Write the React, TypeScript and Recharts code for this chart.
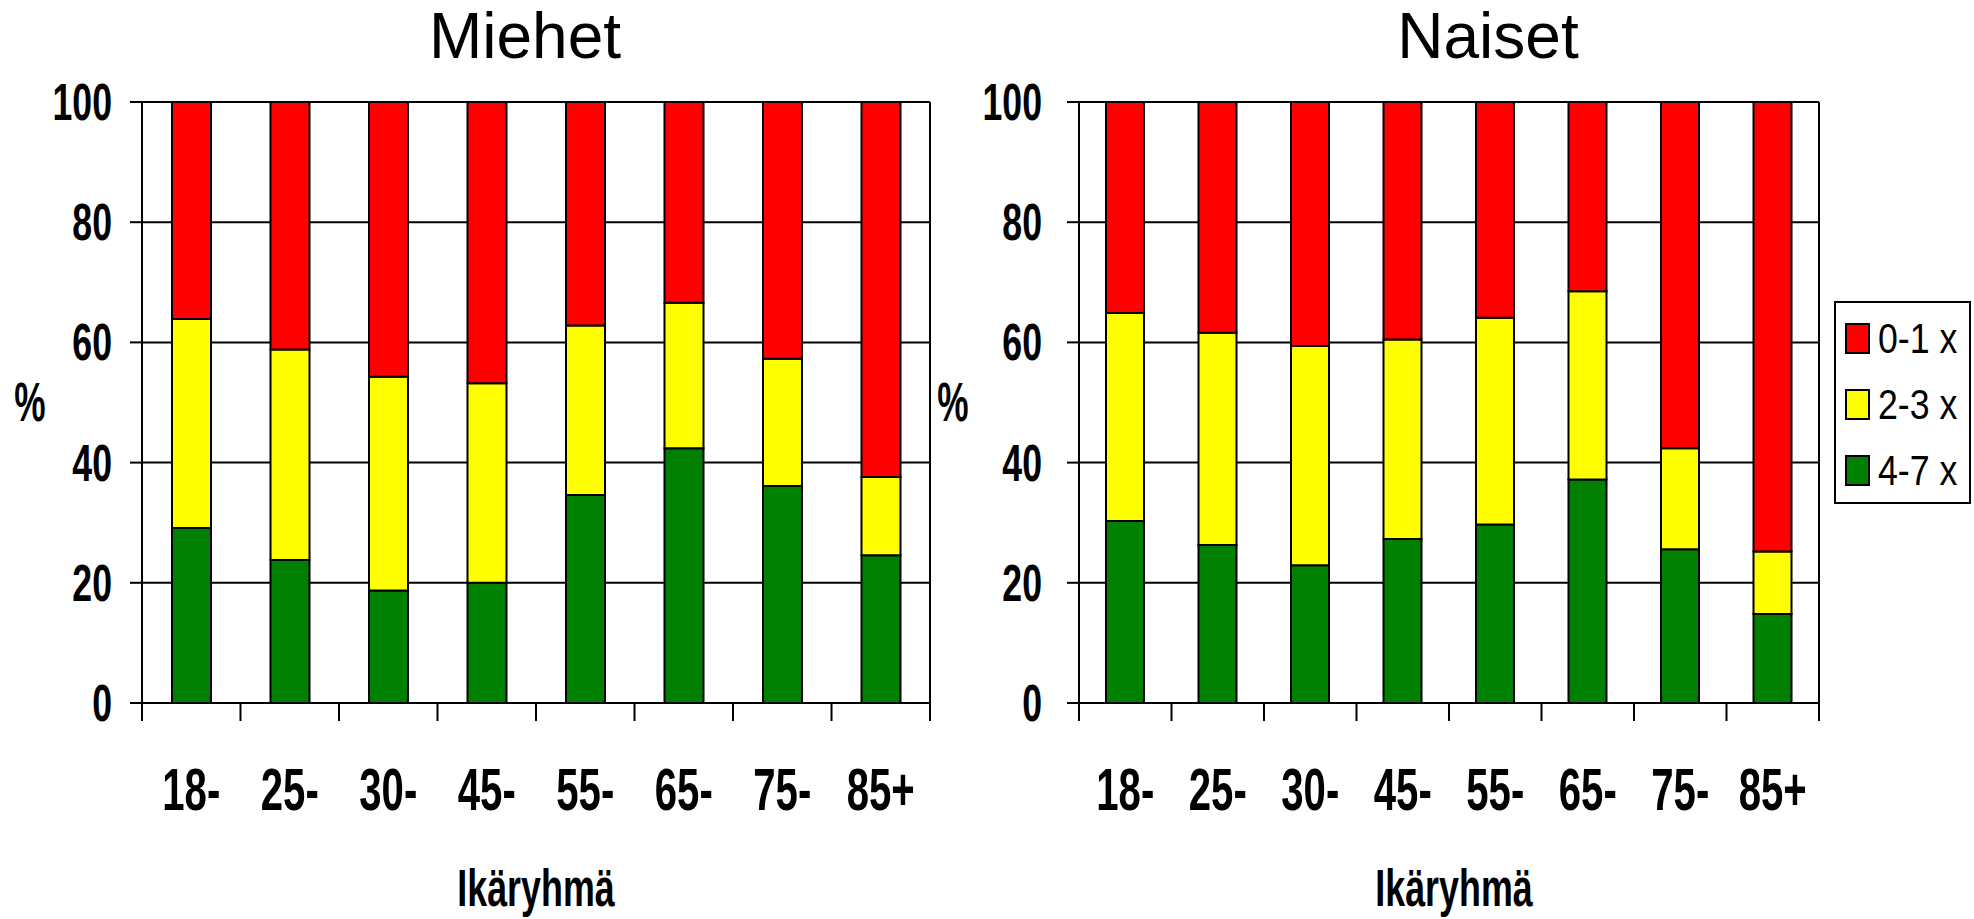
import React from 'react';
import { BarChart, Bar, XAxis, YAxis, CartesianGrid } from 'recharts';

const categories = ['18-', '25-', '30-', '45-', '55-', '65-', '75-', '85+'];
const yTicks = [0, 20, 40, 60, 80, 100];

// Miehet: 4-7 x (bottom), 2-3 x (middle), 0-1 x (top)
const miehetHigh = [29.1, 23.8, 18.7, 20.0, 34.6, 42.4, 36.1, 24.6];
const miehetMid = [34.8, 35.0, 35.6, 33.2, 28.2, 24.2, 21.2, 13.0];
const miehetLow = [36.1, 41.2, 45.7, 46.8, 37.2, 33.4, 42.7, 62.4];

// Naiset
const naisetHigh = [30.3, 26.3, 22.9, 27.3, 29.7, 37.2, 25.6, 14.8];
const naisetMid = [34.6, 35.3, 36.5, 33.2, 34.4, 31.3, 16.8, 10.4];
const naisetLow = [35.1, 38.4, 40.6, 39.5, 35.9, 31.5, 57.6, 74.8];

const legendItems = [
  { label: '0-1 x', color: '#FF0000' },
  { label: '2-3 x', color: '#FFFF00' },
  { label: '4-7 x', color: '#008000' },
];

const FONT = '"Liberation Sans", Arial, sans-serif';

const buildRows = (high: number[], mid: number[], low: number[]) =>
  categories.map((group, i) => ({ group, high: high[i], mid: mid[i], low: low[i] }));

const YTick = (props: any) => {
  const { y, payload, anchorX } = props;
  return (
    <text
      transform={`translate(${anchorX},${y}) scale(0.7,1)`}
      textAnchor="end"
      dominantBaseline="central"
      fontFamily={FONT}
      fontWeight="bold"
      fontSize={51}
      fill="#000"
    >
      {payload.value}
    </text>
  );
};

// label at the band centre + tick marks at the band edges (Excel style)
const XTick = (props: any) => {
  const { x, y, payload, index } = props;
  const half = payload.offset ?? 0;
  const last = index === categories.length - 1;
  return (
    <g>
      <line x1={x - half} x2={x - half} y1={y} y2={y + 18} stroke="#000" strokeWidth={2} />
      {last && <line x1={x + half} x2={x + half} y1={y} y2={y + 18} stroke="#000" strokeWidth={2} />}
      <text
        transform={`translate(${x},810) scale(0.68,1)`}
        textAnchor="middle"
        fontFamily={FONT}
        fontWeight="bold"
        fontSize={59}
        fill="#000"
      >
        {payload.value}
      </text>
    </g>
  );
};

interface PanelProps {
  rows: any[];
  left: number;
  width: number;
  yAxisWidth: number;
  marginRight: number;
  barSize: number;
  tickAnchorX: number;
}

const Panel = ({ rows, left, width, yAxisWidth, marginRight, barSize, tickAnchorX }: PanelProps) => (
  <div style={{ position: 'absolute', left, top: 0 }}>
    <BarChart
      width={width}
      height={919}
      data={rows}
      margin={{ top: 102, right: marginRight, left: 0, bottom: 215 }}
    >
      <CartesianGrid vertical={false} stroke="#000" strokeWidth={2} />
      <XAxis
        dataKey="group"
        height={1}
        tick={<XTick />}
        tickLine={false}
        tickSize={0}
        tickMargin={0}
        axisLine={{ stroke: '#000', strokeWidth: 2 }}
        interval={0}
      />
      <YAxis
        width={yAxisWidth}
        domain={[0, 100]}
        ticks={yTicks}
        interval={0}
        tickSize={12}
        tickLine={{ stroke: '#000', strokeWidth: 2 }}
        axisLine={{ stroke: '#000', strokeWidth: 2 }}
        tick={<YTick anchorX={tickAnchorX} />}
      />
      {/* right frame of the plot area */}
      <YAxis
        yAxisId="frame"
        orientation="right"
        width={1}
        domain={[0, 100]}
        allowDataOverflow
        tick={false}
        tickLine={false}
        axisLine={{ stroke: '#000', strokeWidth: 2 }}
      />
      <Bar dataKey="high" stackId="s" fill="#008000" stroke="#000" strokeWidth={2} barSize={barSize} isAnimationActive={false} />
      <Bar dataKey="mid" stackId="s" fill="#FFFF00" stroke="#000" strokeWidth={2} barSize={barSize} isAnimationActive={false} />
      <Bar dataKey="low" stackId="s" fill="#FF0000" stroke="#000" strokeWidth={2} barSize={barSize} isAnimationActive={false} />
    </BarChart>
  </div>
);

const CondensedText = ({ x, y, size, scale, children, baseline }: any) => (
  <text
    transform={`translate(${x},${y}) scale(${scale},1)`}
    textAnchor="middle"
    dominantBaseline={baseline}
    fontFamily={FONT}
    fontWeight="bold"
    fontSize={size}
    fill="#000"
  >
    {children}
  </text>
);

export default function App() {
  const miehet = buildRows(miehetHigh, miehetMid, miehetLow);
  const naiset = buildRows(naisetHigh, naisetMid, naisetLow);

  return (
    <div style={{ position: 'absolute', left: 0, top: 0, width: 1974, height: 919, background: '#fff' }}>
      <Panel rows={miehet} left={0} width={960} yAxisWidth={142} marginRight={29} barSize={39} tickAnchorX={112} />
      <Panel rows={naiset} left={960} width={1014} yAxisWidth={119} marginRight={154} barSize={38} tickAnchorX={82} />
      <svg
        width={1974}
        height={919}
        style={{ position: 'absolute', left: 0, top: 0, pointerEvents: 'none' }}
      >
        <text x={525} y={58} textAnchor="middle" fontFamily={FONT} fontSize={64} fill="#000">Miehet</text>
        <text x={1488} y={58} textAnchor="middle" fontFamily={FONT} fontSize={64} fill="#000">Naiset</text>

        <CondensedText x={30} y={402} size={55} scale={0.64} baseline="central">%</CondensedText>
        <CondensedText x={953} y={402} size={55} scale={0.64} baseline="central">%</CondensedText>

        <CondensedText x={536} y={906} size={52} scale={0.69}>Ikäryhmä</CondensedText>
        <CondensedText x={1454} y={906} size={52} scale={0.69}>Ikäryhmä</CondensedText>

        <rect x={1835} y={302} width={135} height={201} fill="#fff" stroke="#000" strokeWidth={2} />
        {legendItems.map((item, i) => (
          <g key={item.label}>
            <rect x={1846} y={324 + i * 66} width={23} height={29} fill={item.color} stroke="#000" strokeWidth={2} />
            <text
              transform={`translate(1878,${338 + i * 66}) scale(0.85,1)`}
              dominantBaseline="central"
              fontFamily={FONT}
              fontSize={42}
              fill="#000"
            >
              {item.label}
            </text>
          </g>
        ))}
      </svg>
    </div>
  );
}
